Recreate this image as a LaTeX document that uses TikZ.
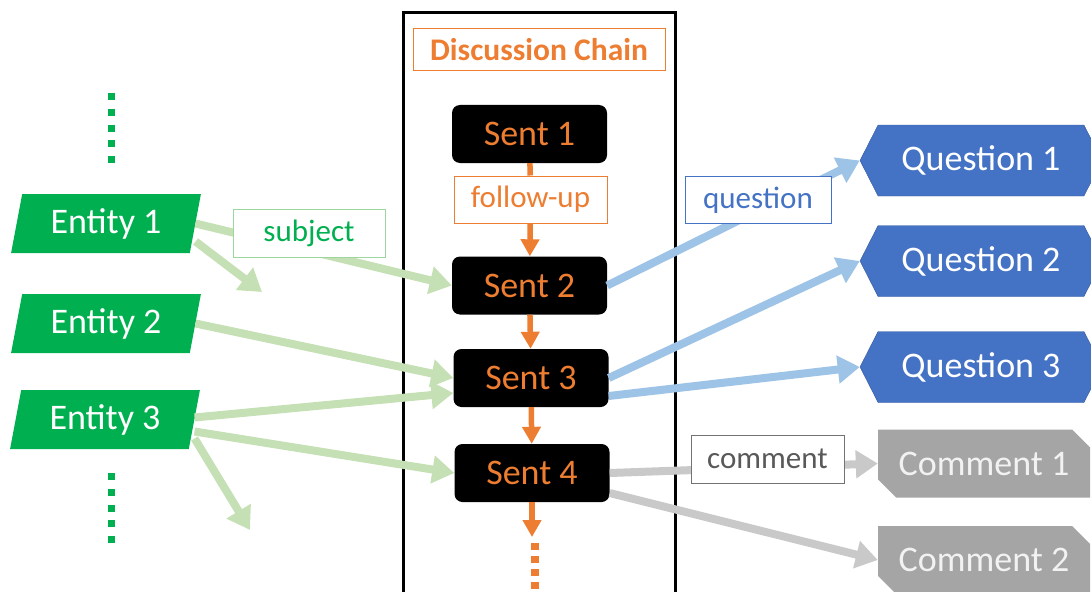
\documentclass[tikz,border=0pt]{standalone}
\usepackage{fontspec}
\setmainfont{Carlito}
\usetikzlibrary{positioning, arrows.meta, shapes.geometric, shapes.symbols, shapes.misc}
\definecolor{entgreen}{HTML}{00B050}
\definecolor{chainorange}{HTML}{ED7D31}
\definecolor{qblue}{HTML}{4472C4}
\definecolor{cgray}{HTML}{A5A5A5}
\definecolor{lgreen}{HTML}{C5E0B4}
\definecolor{lblue}{HTML}{9DC3E6}
\definecolor{lgray}{HTML}{C9C9C9}
\tikzset{
x=1pt, y=-1pt, % one unit is one pixel of the screenshot, y goes down
big/.style={font=\fontsize{36}{40}\selectfont}, % text of the boxes
small/.style={font=\fontsize{31}{36}\selectfont}, % text of the edge labels
sent/.style={big, rectangle, rounded corners=8pt, fill=black, text=chainorange, minimum width=155pt, minimum height=58pt, inner sep=0pt},
entity/.style={big, trapezium, trapezium left angle=76.5, trapezium right angle=103.5, trapezium stretches=true, fill=entgreen, text=white, minimum width=190pt, minimum height=59pt, inner sep=0pt},
question/.style={big, signal, signal to=east and west, signal pointer angle=126, fill=qblue, draw=qblue!80!black, text=white, minimum width=242pt, minimum height=71pt, inner sep=0pt},
comment/.style={big, chamfered rectangle, chamfered rectangle corners={north east, south west}, chamfered rectangle xsep=9pt, chamfered rectangle ysep=9pt, fill=cgray, text=white!95!black, minimum width=212pt, minimum height=68pt, inner sep=0pt},
tag/.style={small, rectangle, fill=white, draw, line width=1pt, inner sep=0pt}, % label boxes on the edges
relation/.style={line width=8pt, -{Triangle[length=22pt, width=27pt]}}, % light edges
follow/.style={draw=chainorange, line width=5.5pt, -{Triangle[length=17pt, width=18pt]}}, % chain edges
continued/.style={line width=7pt, dash pattern=on 7pt off 8.75pt}, % the dotted "more" lines
}
\begin{document}
\begin{tikzpicture}
        \useasboundingbox (0,0) rectangle (1091,591);

        % Discussion chain
        \draw[line width=3pt] (403,13) rectangle (675,620);
        \node[small, font=\fontsize{31.5}{36}\selectfont\bfseries, draw=chainorange, text=chainorange, line width=1pt, minimum width=252pt, minimum height=42pt, inner sep=0pt] (title) at (539,49.5) {Discussion Chain};

        \node[sent] (s1) at (529.5,134) {Sent 1};
        \node[sent] (s2) at (529.5,285.5) {Sent 2};
        \node[sent] (s3) at (531,378) {Sent 3};
        \node[sent] (s4) at (532,473) {Sent 4};
        \coordinate (s-more) at (532,537);

        \node[tag, draw=chainorange, text=chainorange, minimum width=153pt, minimum height=47pt] (fu) at (530.5,199.5) {follow-up};
        \draw[follow, -] (s1) -- (fu);
        \draw[follow] (fu) -- (s2);
        \draw[follow] (s2) -- (s3);
        \draw[follow] (s3) -- (s4);
        \draw[follow] (s4) -- (s-more);
        \draw[continued, chainorange, line width=8pt, dash pattern=on 7pt off 6pt] (535,543) -- (535,600);

        % Entities
        \node[entity] (e1) at (106,223.5) {Entity 1};
        \node[entity] (e2) at (106,323.5) {Entity 2};
        \node[entity] (e3) at (105,419.5) {Entity 3};
        \coordinate (e1-out) at (262,292);
        \coordinate (e3-out) at (250,530);
        \draw[continued, entgreen] (111,93) -- (111,163);
        \draw[continued, entgreen] (111,473) -- (111,543);

        \draw[relation, lgreen] (e1.east) -- (s2.west);
        \draw[relation, lgreen] ([yshift=-18pt]e1.east) -- (e1-out);
        \draw[relation, lgreen] (e2.east) -- (s3.west);
        \draw[relation, lgreen] ([yshift=2pt]e3.east) -- ([yshift=-15pt]s3.west);
        \draw[relation, lgreen] ([yshift=-12pt]e3.east) -- (s4.west);
        \draw[relation, lgreen] ([yshift=-19pt]e3.east) -- (e3-out);
        \node[tag, draw=lgreen!80!entgreen, text=entgreen, minimum width=152pt, minimum height=48pt] (subj) at (309,233) {subject};

        % Questions
        \node[question] (q1) at (981,160.5) {Question 1};
        \node[question] (q2) at (981,261) {Question 2};
        \node[question] (q3) at (981,367) {Question 3};

        \draw[relation, lblue] (s2.east) -- (q1.west);
        \draw[relation, lblue] (s3.east) -- (q2.west);
        \draw[relation, lblue] ([yshift=-18pt]s3.east) -- (q3.west);
        \node[tag, draw=qblue, text=qblue, minimum width=146pt, minimum height=47pt] (ques) at (758,200) {question};

        % Comments
        \node[comment] (c1) at (984,463.5) {Comment 1};
        \node[comment] (c2) at (984,560) {Comment 2};

        \draw[relation, lgray] (s4.east) -- (c1.west);
        \draw[relation, lgray] ([yshift=-20pt]s4.east) -- (c2.west);
        \node[tag, draw=black!55, text=black!65, minimum width=153pt, minimum height=48pt] (comm) at (767.5,459) {comment};
    \end{tikzpicture}
\end{document}
